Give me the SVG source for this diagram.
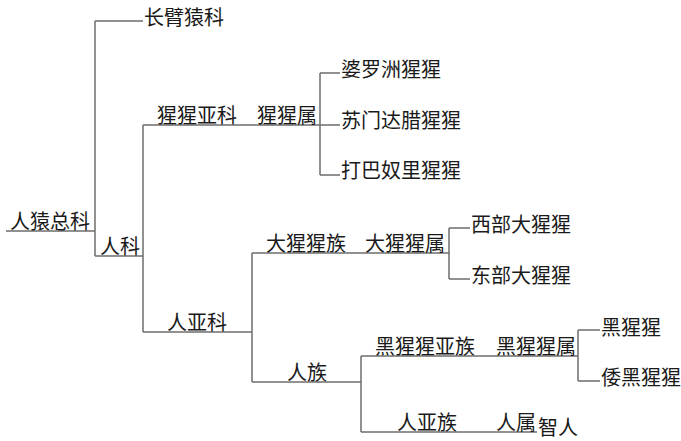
<svg xmlns="http://www.w3.org/2000/svg" width="681" height="441" viewBox="0 0 681 441">
<style>
.e{stroke:#6e6e6e;stroke-width:1.5;fill:none}
text{font-family:"Noto Sans CJK SC","Noto Sans",sans-serif;font-size:20px;fill:#1a1a1a}
</style>
<rect width="681" height="441" fill="#fff"/>
<g id="connectors">
<path class="e" d="M6,231H95M95,21V256M95,21H143M95,256H143M143,125V332M143,125H320M320,73V175M320,73H340M320,125H340M320,175H340M143,332H252M252,253V382M252,253H449M449,228V279M449,228H470M449,279H470M252,382H361M361,356V432M361,356H578M578,330V381M578,330H600M578,381H600M361,432H537"/>
</g>
<g id="n-hominoidea"><text x="10" y="229">人猿总科</text></g>
<g id="n-hylobatidae"><text x="144" y="25">长臂猿科</text></g>
<g id="n-hominidae"><text x="100" y="254">人科</text></g>
<g id="n-ponginae"><text x="157" y="123">猩猩亚科</text></g>
<g id="n-pongo"><text x="257" y="123">猩猩属</text></g>
<g id="n-borneo"><text x="341" y="77">婆罗洲猩猩</text></g>
<g id="n-sumatra"><text x="341" y="128">苏门达腊猩猩</text></g>
<g id="n-tapanuli"><text x="341" y="178">打巴奴里猩猩</text></g>
<g id="n-homininae"><text x="167" y="330">人亚科</text></g>
<g id="n-gorillini"><text x="266" y="251">大猩猩族</text></g>
<g id="n-gorilla"><text x="365" y="251">大猩猩属</text></g>
<g id="n-western"><text x="471" y="232">西部大猩猩</text></g>
<g id="n-eastern"><text x="471" y="283">东部大猩猩</text></g>
<g id="n-hominini"><text x="287" y="380">人族</text></g>
<g id="n-panina"><text x="375" y="354">黑猩猩亚族</text></g>
<g id="n-pan"><text x="496" y="354">黑猩猩属</text></g>
<g id="n-chimp"><text x="601" y="335">黑猩猩</text></g>
<g id="n-bonobo"><text x="601" y="385">倭黑猩猩</text></g>
<g id="n-hominina"><text x="397" y="430">人亚族</text></g>
<g id="n-homo"><text x="496" y="430">人属</text></g>
<g id="n-sapiens"><text x="538" y="435">智人</text></g>
</svg>
